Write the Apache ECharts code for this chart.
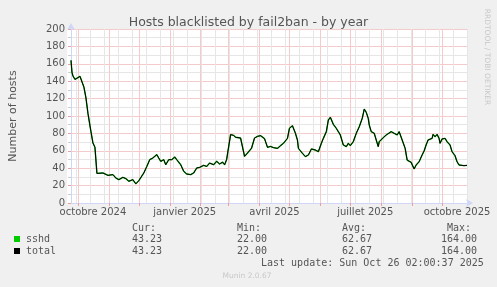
<!DOCTYPE html>
<html><head><meta charset="utf-8">
<script src="https://cdn.jsdelivr.net/npm/echarts@6/dist/echarts.min.js"></script>
<style>html,body{margin:0;padding:0;background:#f0f0f0}#c{width:497px;height:287px}</style>
</head><body><div id="c"></div>
<script>
// ---- data ----
const startYear = 2024, startMonth = 8, startDay = 24;   // 2024-09-24
const dayCount = 398;                                     // through 2025-10-26
const monthNames = ['janvier','février','mars','avril','mai','juin','juillet','août','septembre','octobre','novembre','décembre'];
const labelMonths = [0, 3, 6, 9];
const yMin = 0, yMax = 200, yStep = 20;

// day offsets from start date, and hosts blacklisted (sshd == total)
const days = [0,1,2,4,6,9,10,13,15,17,20,22,24,26,28,32,34,37,39,42,45,48,52,55,58,62,65,68,70,73,76,79,82,86,88,90,93,95,98,101,104,106,110,113,116,120,123,126,129,133,136,139,143,146,149,152,154,156,158,160,163,165,167,170,172,174,177,181,184,187,190,194,197,200,203,207,210,213,217,219,222,225,227,228,232,235,238,241,245,248,251,253,256,258,260,261,263,266,270,273,276,278,280,283,286,289,292,294,296,298,299,301,304,308,309,313,316,318,321,324,327,329,332,335,337,341,344,346,349,352,354,356,358,362,363,365,367,369,370,372,375,377,380,382,385,387,389,391,394,395,397];
const sshd  = [164,150,146,142,143,145.6,143.7,133,120.7,103,82,69,64,34,33.3,34.5,32.6,31.8,33.3,32.6,28.7,26.8,29.5,28,25,26.8,22,25.7,26.8,34.5,42,49.9,51.7,55.6,51.7,47.9,49.8,44,49.8,49.8,52.9,49.8,44,36.4,33.3,32.6,34.5,40.2,41,43.3,42,45.9,44,47.9,44.8,47,44,49.8,49.8,78.6,77.8,75.5,76.6,74.7,76.6,53.6,57.5,63,74.7,76.6,77.4,74,64,65,63.6,62.8,65.9,68.6,74.3,85.8,88.9,80.1,72.4,62.8,57.1,53.3,55.2,62.1,60.9,59,68.6,74.3,82,95.4,98.5,97.3,90.4,85.8,78.2,66.7,64.8,68.6,65.9,70.5,80.1,87.7,97.3,108,104.2,97.3,89.7,82,80.1,64.8,70.5,75.1,78.2,76.2,82,80.1,78.2,82,72.4,62.8,49.4,46.7,39.1,43.7,47.5,55.2,59.8,66.7,72.4,74.3,78.9,76.2,78.9,74.3,68.6,73.6,74.3,70.5,66.7,59,54.4,47.5,43.7,44.4,42.9,43.7,43.23];
const total = sshd.slice();

const legendNames = ['sshd', 'total'];
const legendColors = ['#00cc00', '#000000'];
const statHeads = ['Cur:', 'Min:', 'Avg:', 'Max:'];
const statValues = [['43.23','22.00','62.67','164.00'], ['43.23','22.00','62.67','164.00']];
const lastUpdate = 'Last update: Sun Oct 26 02:00:37 2025';

// ---- build ----
const categories = [];
for (let i = 0; i < dayCount; i++) {
  const dt = new Date(Date.UTC(startYear, startMonth, startDay) + i * 86400000);
  categories.push(dt.toISOString().slice(0, 10));
}
const isMonthStart = (i) => categories[i].slice(8) === '01';
const isBiweekly = (i) => i % 14 === 5;
const isLabel = (i) => categories[i].slice(8) === '16' && labelMonths.includes(+categories[i].slice(5, 7) - 1);

const MG = '#f5caca';
const GG = '#e6e6e6';
const MT = '#e8a0a0';
const AX = '#CFD6F8';
const FONT = 'DejaVu Sans';
const MONO = 'DejaVu Sans Mono';

const pairs = (vals) => days.map((d, k) => [d, vals[k]]);

const graphics = [];
// white plotting canvas behind the grid lines
graphics.push({type:'rect', z:-10, silent:true, shape:{x:67, y:29, width:400, height:174}, style:{fill:'#ffffff'}});
const statX = [132, 237, 342, 441];
const headX = [132, 237, 342, 447];
statHeads.forEach((h, k) => graphics.push({type:'text', style:{text:h, x:headX[k], y:228, font:'10px ' + MONO, fill:'#555', textVerticalAlign:'middle'}}));
legendNames.forEach((n, r) => {
  const y = 239 + r * 12;
  graphics.push({type:'rect', shape:{x:14, y:y-3, width:6, height:6}, style:{fill:legendColors[r]}});
  graphics.push({type:'text', style:{text:n, x:26, y:y, font:'10px ' + MONO, fill:'#555', textVerticalAlign:'middle'}});
  statValues[r].forEach((v, k) => graphics.push({type:'text', style:{text:v, x:statX[k], y:y, font:'10px ' + MONO, fill:'#555', textVerticalAlign:'middle'}}));
});
graphics.push({type:'text', style:{text:lastUpdate, x:261, y:263, font:'10px ' + MONO, fill:'#555', textVerticalAlign:'middle'}});
graphics.push({type:'text', style:{text:'Munin 2.0.67', x:247, y:276, font:'7.5px ' + FONT, fill:'#c8c8c8', textAlign:'center', textVerticalAlign:'middle'}});
graphics.push({type:'text', x:487, y:57, rotation:-Math.PI/2, style:{text:'RRDTOOL / TOBI OETIKER', x:0, y:0, font:'7.5px ' + FONT, fill:'#c8c8c8', textAlign:'center', textVerticalAlign:'middle'}});

const chart = echarts.init(document.getElementById('c'), null, {renderer:'canvas'});
chart.setOption({
  animation: false,
  backgroundColor: '#f0f0f0',
  title: {text:'Hosts blacklisted by fail2ban - by year', left:'center', top:11,
    textStyle:{fontSize:12.5, fontWeight:'normal', color:'#555', fontFamily:FONT}},
  grid: {left:67, top:29, width:400, height:174, show:false},
  xAxis: [
    {type:'category', data:categories, boundaryGap:false, position:'bottom',
      axisLine:{show:true, lineStyle:{color:AX, width:1}, symbol:['none','arrow'], symbolSize:[6,7], symbolOffset:[0,6]},
      axisTick:{show:true, interval:(i)=>isMonthStart(i), length:3, lineStyle:{color:MT}},
      axisLabel:{show:true, interval:(i)=>isLabel(i), margin:4, color:'#555', fontSize:10, fontFamily:FONT,
        formatter:(v)=> monthNames[+v.slice(5,7)-1] + ' ' + v.slice(0,4)},
      splitLine:{show:true, interval:(i)=>isMonthStart(i), lineStyle:{color:MG, type:'solid', width:1}}},
    {type:'category', data:categories, boundaryGap:false, position:'bottom',
      axisLine:{show:false}, axisTick:{show:false}, axisLabel:{show:false},
      splitLine:{show:true, interval:(i)=>isBiweekly(i), lineStyle:{color:GG, type:'solid', width:1}}},
    {type:'value', min:0, max:dayCount-1, show:false}
  ],
  yAxis: {type:'value', min:yMin, max:yMax, interval:yStep,
    name:'Number of hosts', nameLocation:'middle', nameGap:52,
    nameTextStyle:{fontSize:11, color:'#555', fontFamily:FONT},
    axisLine:{show:true, lineStyle:{color:AX, width:1}, symbol:['none','arrow'], symbolSize:[6,7], symbolOffset:[0,6]},
    axisTick:{show:true, length:3, lineStyle:{color:MT}},
    minorTick:{show:true, splitNumber:2, length:3, lineStyle:{color:'#cccccc'}},
    axisLabel:{margin:6, color:'#555', fontSize:10, fontFamily:FONT},
    splitLine:{show:true, lineStyle:{color:MG, type:'solid', width:1}},
    minorSplitLine:{show:true, lineStyle:{color:GG, type:'solid', width:1}}},
  series: [
    {name:'sshd', type:'line', xAxisIndex:2, data:pairs(sshd), showSymbol:false, symbol:'none',
      lineStyle:{color:'#00aa00', width:1.4}, z:3},
    {name:'total', type:'line', xAxisIndex:2, data:pairs(total), showSymbol:false, symbol:'none',
      lineStyle:{color:'#000000', width:1}, z:4}
  ],
  graphic: graphics
});
</script></body></html>
